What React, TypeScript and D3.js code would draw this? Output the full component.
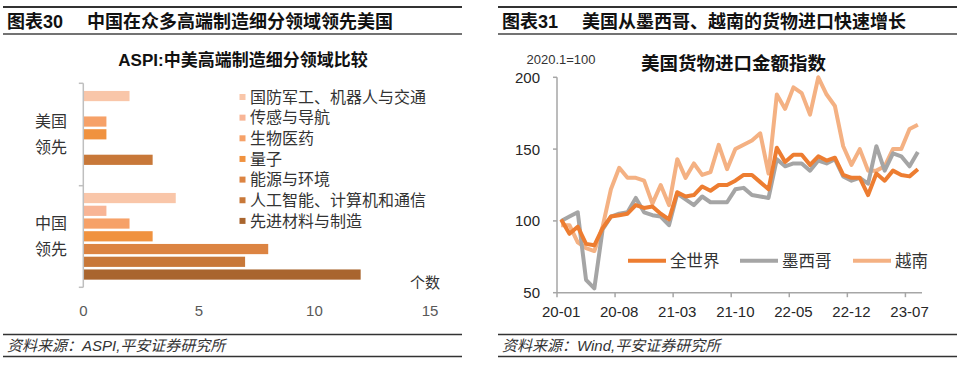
import React from "react";
import * as d3 from "d3";

// left chart: ASPI comparison
const groups = ["美国领先", "中国领先"];
const fields = ["国防军工、机器人与交通", "传感与导航", "生物医药", "量子", "能源与环境", "人工智能、计算机和通信", "先进材料与制造"];
const usLead = [2, 0, 1, 1, 0, 3, 0];
const cnLead = [4, 1, 2, 3, 8, 7, 12];
const fieldColors = ["#F9C6A9", "#F8B596", "#F6A168", "#F0923F", "#DC8442", "#C87839", "#A9652E"];
const barTicks = [0, 5, 10, 15];

// right chart: US import index, 2020.1=100
const months = [
  "20-01", "20-02", "20-03", "20-04", "20-05", "20-06", "20-07", "20-08", "20-09", "20-10", "20-11", "20-12",
  "21-01", "21-02", "21-03", "21-04", "21-05", "21-06", "21-07", "21-08", "21-09", "21-10", "21-11", "21-12",
  "22-01", "22-02", "22-03", "22-04", "22-05", "22-06", "22-07", "22-08", "22-09", "22-10", "22-11", "22-12",
  "23-01", "23-02", "23-03", "23-04", "23-05", "23-06", "23-07", "23-08",
];
const world = [101, 91, 96, 84, 83, 95, 103, 104, 105, 111, 109, 110, 105, 101, 120, 117, 118, 124, 121, 125, 125, 128, 132, 132, 127, 122, 151, 141, 146, 146, 139, 145, 142, 144, 132, 130, 130, 118, 133, 128, 135, 132, 131, 136];
const mexico = [100, 103, 106, 59, 53, 94, 103, 105, 106, 116, 106, 104, 103, 97, 119, 115, 111, 117, 113, 113, 113, 122, 123, 118, 117, 116, 143, 138, 140, 140, 135, 142, 140, 143, 131, 128, 130, 126, 152, 135, 147, 145, 138, 148];
const vietnam = [97, 97, 85, 81, 79, 96, 122, 137, 130, 130, 128, 112, 125, 111, 143, 130, 140, 132, 134, 153, 136, 150, 153, 156, 161, 133, 188, 178, 193, 189, 174, 200, 188, 180, 152, 139, 150, 135, 135, 138, 150, 150, 164, 167];
const lineNames = ["全世界", "墨西哥", "越南"];
const lineColors = ["#ED7D31", "#A5A5A5", "#F4B183"];
const monthTicks = ["20-01", "20-08", "21-03", "21-10", "22-05", "22-12", "23-07"];
const indexTicks = [50, 100, 150, 200];

const FONT = "'Liberation Sans', Arial, 'Noto Sans CJK SC', sans-serif";

function Frame({ x0, x1, num, title, source }: { x0: number; x1: number; num: string; title: string; source: string }) {
  return (
    <g>
      <line x1={x0} x2={x1} y1={7} y2={7} stroke="#333" strokeWidth={2} />
      <line x1={x0} x2={x1} y1={34} y2={34} stroke="#444" strokeWidth={1.6} />
      <text x={x0 + 4} y={28} fontSize={18} fontWeight="bold" fill="#111">{num}</text>
      <text x={x0 + 84} y={28} fontSize={18} fontWeight="bold" fill="#111">{title}</text>
      <line x1={x0} x2={x1} y1={334.5} y2={334.5} stroke="#333" strokeWidth={1.5} />
      <text x={x0 + 4} y={351} fontSize={15} fontStyle="italic" fill="#333">{source}</text>
      <line x1={x0} x2={x1} y1={356.5} y2={356.5} stroke="#333" strokeWidth={1.5} />
    </g>
  );
}

function BarChart() {
  const x = d3.scaleLinear().domain([0, 15]).range([83.3, 430]);
  const gy = d3.scaleBand().domain(groups).range([83.3, 287.3]);
  const sy = d3.scaleBand().domain(fields).range([0, gy.bandwidth()]).paddingInner(0.2).paddingOuter(0.6);
  const data = [usLead, cnLead];
  return (
    <g>
      <text x={243} y={66} textAnchor="middle" fontSize={17} fontWeight="bold" fill="#111">ASPI:中美高端制造细分领域比较</text>
      {groups.map((g, gi) =>
        fields.map((f, fi) =>
          data[gi][fi] > 0 ? (
            <rect key={g + f} x={x(0)} y={gy(g)! + sy(f)!} width={x(data[gi][fi]) - x(0)} height={sy.bandwidth()} fill={fieldColors[fi]} />
          ) : null
        )
      )}
      <line x1={x(0)} x2={x(0)} y1={83.3} y2={287.3} stroke="#BFBFBF" strokeWidth={1.5} />
      {[83.3, 185.7, 287.3].map((t) => (
        <line key={t} x1={x(0) - 4.5} x2={x(0)} y1={t} y2={t} stroke="#BFBFBF" strokeWidth={1.5} />
      ))}
      {groups.map((g) => (
        <text key={g} x={51} textAnchor="middle" fontSize={16} fill="#333">
          <tspan x={51} y={gy(g)! + gy.bandwidth() / 2 - 7}>{g.slice(0, 2)}</tspan>
          <tspan x={51} y={gy(g)! + gy.bandwidth() / 2 + 19}>{g.slice(2)}</tspan>
        </text>
      ))}
      {barTicks.map((t) => (
        <text key={t} x={x(t)} y={315.5} textAnchor="middle" fontSize={15} fill="#595959">{t}</text>
      ))}
      <text x={425} y={288} textAnchor="middle" fontSize={15} fill="#333">个数</text>
      {fields.map((f, i) => (
        <g key={f} transform={`translate(0,${97 + i * 20.65})`}>
          <rect x={239.5} y={-3} width={6} height={6} fill={fieldColors[i]} />
          <text x={250} y={5.8} fontSize={16} fill="#333">{f}</text>
        </g>
      ))}
    </g>
  );
}

function LineChart() {
  const x = d3.scaleBand().domain(months).range([557, 922]);
  const y = d3.scaleLinear().domain([50, 200]).range([292.7, 77.3]);
  const series = [world, mexico, vietnam];
  const line = d3
    .line<number>()
    .x((_, i) => x(months[i])! + x.bandwidth() / 2)
    .y((d) => y(d));
  // draw order: vietnam behind, then mexico, world on top
  const order = [2, 1, 0];
  return (
    <g>
      <text x={733.5} y={69.5} textAnchor="middle" fontSize={18.5} fontWeight="bold" fill="#111">美国货物进口金额指数</text>
      <text x={561} y={64} textAnchor="middle" fontSize={13} fill="#333">2020.1=100</text>
      {order.map((k) => (
        <path key={k} d={line(series[k])!} fill="none" stroke={lineColors[k]} strokeWidth={4} strokeLinejoin="round" />
      ))}
      <line x1={557} x2={557} y1={y(200)} y2={y(50)} stroke="#A6A6A6" strokeWidth={1.5} />
      {indexTicks.map((t) => (
        <g key={t}>
          <line x1={553} x2={557} y1={y(t)} y2={y(t)} stroke="#A6A6A6" strokeWidth={1.5} />
          <text x={540} y={y(t) + 5.5} textAnchor="end" fontSize={15} fill="#262626">{t}</text>
        </g>
      ))}
      <line x1={557} x2={922} y1={y(50)} y2={y(50)} stroke="#A6A6A6" strokeWidth={1.5} />
      {monthTicks.map((m) => (
        <g key={m}>
          <line x1={x(m)} x2={x(m)} y1={y(50)} y2={y(50) + 4.5} stroke="#A6A6A6" strokeWidth={1.5} />
          <text x={x(m)! + x.bandwidth() / 2} y={317} textAnchor="middle" fontSize={15} fill="#262626">{m}</text>
        </g>
      ))}
      {lineNames.map((n, i) => {
        const lx = [628, 740, 853][i];
        return (
          <g key={n}>
            <line x1={lx} x2={lx + 38} y1={260.7} y2={260.7} stroke={lineColors[i]} strokeWidth={4} />
            <text x={lx + 42} y={266.5} fontSize={16.5} fill="#333">{n}</text>
          </g>
        );
      })}
    </g>
  );
}

export default function App() {
  return (
    <svg width={960} height={365} style={{ position: "absolute", left: 0, top: 0, background: "#fff" }} fontFamily={FONT}>
      <rect width={960} height={365} fill="#fff" />
      <Frame x0={3} x1={462} num="图表30" title="中国在众多高端制造细分领域领先美国" source="资料来源：ASPI,平安证券研究所" />
      <Frame x0={498} x1={957} num="图表31" title="美国从墨西哥、越南的货物进口快速增长" source="资料来源：Wind,平安证券研究所" />
      <BarChart />
      <LineChart />
    </svg>
  );
}
